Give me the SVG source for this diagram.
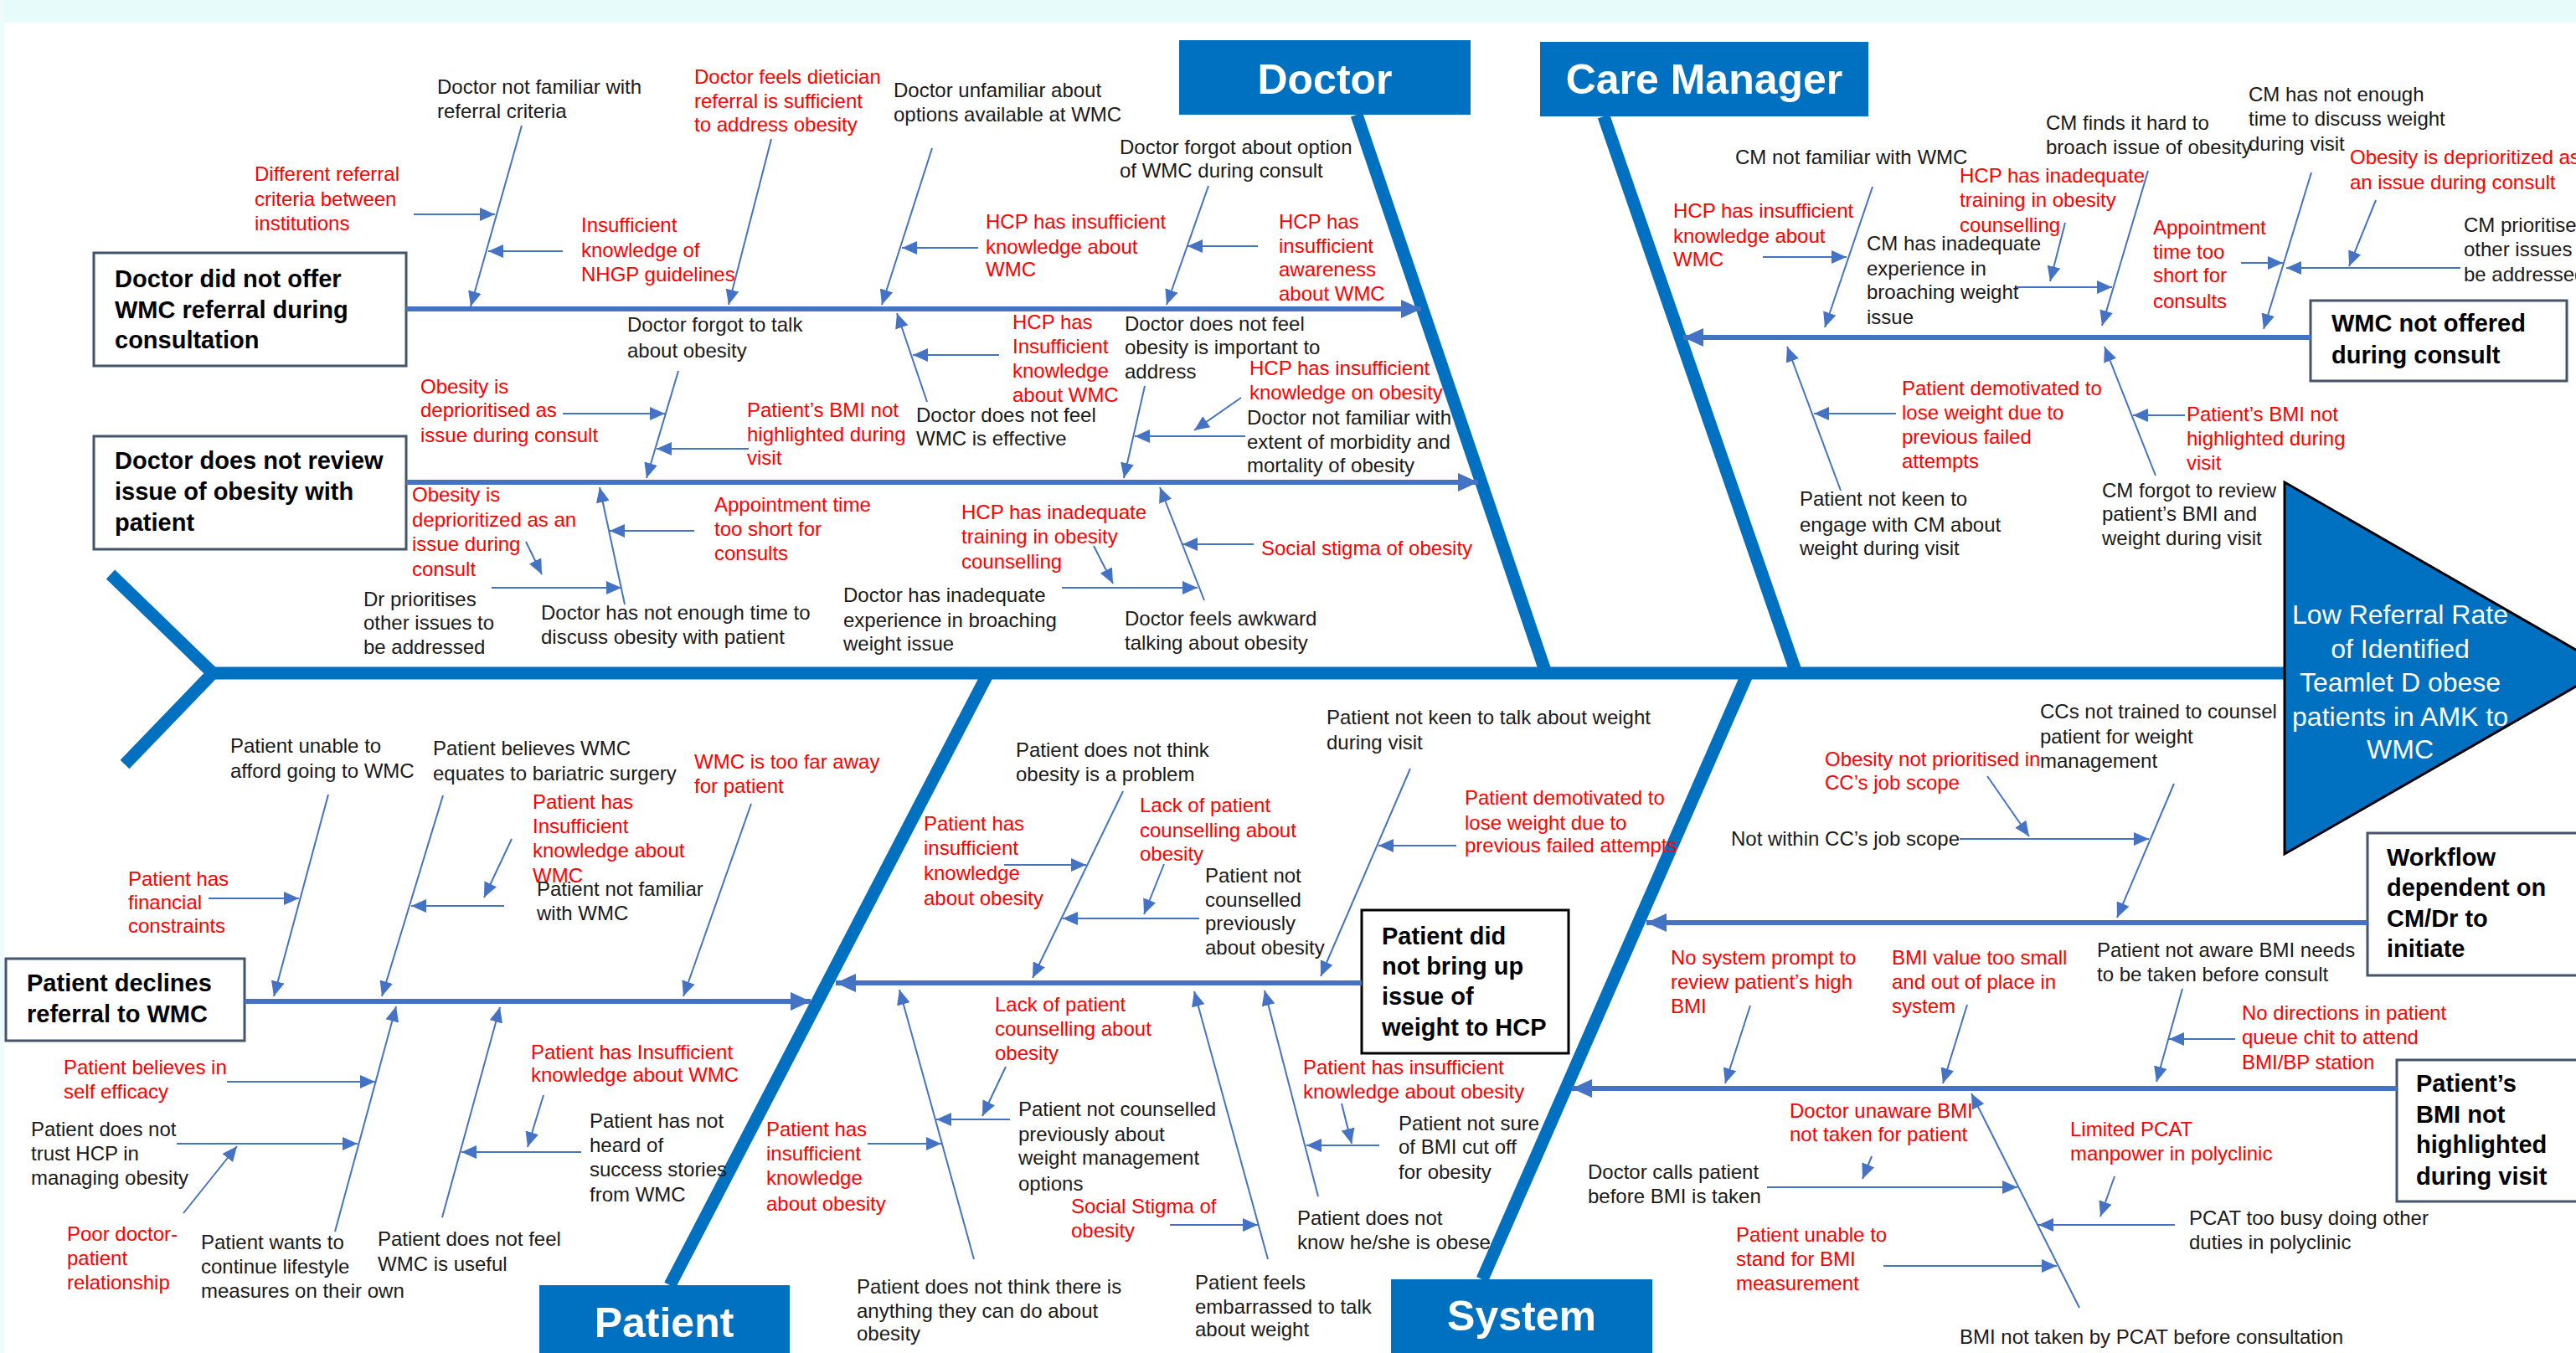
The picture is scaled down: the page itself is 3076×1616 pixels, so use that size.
<svg xmlns="http://www.w3.org/2000/svg" width="3076" height="1616" viewBox="0 0 3076 1616">
<defs>
<style>
text{font-family:"Liberation Sans",Arial,sans-serif}
.t{font-size:24px;fill:#1a1a1a}
.r{fill:#ff0000}
.b{font-size:29px;font-weight:bold;fill:#000}
.cat{font-size:50px;font-weight:bold;fill:#fff;text-anchor:middle}
.head{font-size:32px;fill:#fff;text-anchor:middle}
.bone{stroke:#0070C0;stroke-width:15;fill:none}
.sub{stroke:#4472C4;stroke-width:6;fill:none;marker-end:url(#A)}
.thin{stroke:#4472C4;stroke-width:2;fill:none;marker-end:url(#a)}
.ebox{fill:#fff;stroke:#44546A;stroke-width:3}
.cbox{fill:#0070C0}
</style>
<marker id="a" markerUnits="userSpaceOnUse" markerWidth="18" markerHeight="16" refX="18" refY="8" orient="auto"><path d="M0,0 L18,8 L0,16 Z" fill="#4472C4"/></marker>
<marker id="A" markerUnits="userSpaceOnUse" markerWidth="24" markerHeight="22" refX="24" refY="11" orient="auto"><path d="M0,0 L24,11 L0,22 Z" fill="#4472C4"/></marker>
</defs>
<rect width="3076" height="1616" fill="#fff"/>
<rect width="3076" height="27" fill="#e8fbfb"/>
<rect width="5" height="1616" fill="#eefbfb"/>

<g id="skeleton">
<polyline class="bone" points="132,686 254,804 149,913" stroke-width="16"/>
<line class="bone" x1="250" y1="804" x2="2730" y2="804" stroke-width="14"/>
<line class="bone" x1="1620" y1="137" x2="1846" y2="804"/>
<line class="bone" x1="1915" y1="139" x2="2145" y2="804"/>
<line class="bone" x1="1180" y1="804" x2="800" y2="1535"/>
<line class="bone" x1="2087" y1="804" x2="1770" y2="1528"/>
</g>

<g id="effect">
<polygon points="2728,576 3114,798 2728,1020" fill="#0070C0" stroke="#000" stroke-width="3"/>
<text class="head"><tspan x="2866" y="745">Low Referral Rate</tspan><tspan x="2866" y="786">of Identified</tspan><tspan x="2866" y="826">Teamlet D obese</tspan><tspan x="2866" y="867">patients in AMK to</tspan><tspan x="2866" y="906">WMC</tspan></text>
</g>

<g id="cat-doctor"><rect class="cbox" x="1408" y="48" width="348" height="89"/><text class="cat" x="1582" y="112">Doctor</text></g>
<g id="cat-care-manager"><rect class="cbox" x="1839" y="50" width="392" height="89"/><text class="cat" x="2035" y="112">Care Manager</text></g>
<g id="cat-patient"><rect class="cbox" x="644" y="1535" width="299" height="90"/><text class="cat" x="793" y="1597">Patient</text></g>
<g id="cat-system"><rect class="cbox" x="1661" y="1528" width="312" height="95"/><text class="cat" x="1817" y="1589">System</text></g>

<g id="box-doctor-no-offer"><rect class="ebox" x="112" y="302" width="373" height="135"/><text class="b"><tspan x="137" y="343">Doctor did not offer</tspan><tspan x="137" y="380">WMC referral during</tspan><tspan x="137" y="416">consultation</tspan></text></g>
<g id="box-doctor-no-review"><rect class="ebox" x="112" y="521" width="373" height="135"/><text class="b"><tspan x="137" y="560">Doctor does not review</tspan><tspan x="137" y="597">issue of obesity with</tspan><tspan x="137" y="634">patient</tspan></text></g>
<g id="box-wmc-not-offered"><rect class="ebox" x="2759" y="359" width="306" height="96"/><text class="b"><tspan x="2784" y="396">WMC not offered</tspan><tspan x="2784" y="434">during consult</tspan></text></g>
<g id="box-patient-declines"><rect class="ebox" x="7" y="1145" width="285" height="98"/><text class="b"><tspan x="32" y="1184">Patient declines</tspan><tspan x="32" y="1221">referral to WMC</tspan></text></g>
<g id="box-patient-no-bring-up"><rect x="1626" y="1087" width="247" height="171" fill="#fff" stroke="#000" stroke-width="3"/><text class="b"><tspan x="1650" y="1128">Patient did</tspan><tspan x="1650" y="1164">not bring up</tspan><tspan x="1650" y="1200">issue of</tspan><tspan x="1650" y="1237">weight to HCP</tspan></text></g>
<g id="box-workflow"><rect class="ebox" x="2827" y="995" width="270" height="170"/><text class="b"><tspan x="2850" y="1034">Workflow</tspan><tspan x="2850" y="1070">dependent on</tspan><tspan x="2850" y="1107">CM/Dr to</tspan><tspan x="2850" y="1143">initiate</tspan></text></g>
<g id="box-bmi-not-highlighted"><rect class="ebox" x="2862" y="1266" width="235" height="169"/><text class="b"><tspan x="2885" y="1304">Patient’s</tspan><tspan x="2885" y="1341">BMI not</tspan><tspan x="2885" y="1377">highlighted</tspan><tspan x="2885" y="1415">during visit</tspan></text></g>

<g id="connectors">
<line class="sub" x1="485" y1="369" x2="1697" y2="369"/>
<line class="sub" x1="485" y1="576" x2="1765" y2="576"/>
<line class="sub" x1="2759" y1="403" x2="2010" y2="403"/>
<line class="sub" x1="292" y1="1196" x2="968" y2="1196"/>
<line class="sub" x1="1626" y1="1174" x2="998" y2="1174"/>
<line class="sub" x1="2827" y1="1102" x2="1966" y2="1102"/>
<line class="sub" x1="2862" y1="1300" x2="1877" y2="1300"/>

<line class="thin" x1="623" y1="150" x2="562" y2="366"/>
<line class="thin" x1="494" y1="256" x2="591" y2="256"/>
<line class="thin" x1="672" y1="300" x2="583" y2="300"/>
<line class="thin" x1="921" y1="166" x2="870" y2="364"/>
<line class="thin" x1="1113" y1="177" x2="1053" y2="364"/>
<line class="thin" x1="1168" y1="296" x2="1077" y2="296"/>
<line class="thin" x1="1443" y1="222" x2="1393" y2="364"/>
<line class="thin" x1="1502" y1="294" x2="1418" y2="294"/>
<line class="thin" x1="810" y1="443" x2="772" y2="571"/>
<line class="thin" x1="672" y1="494" x2="794" y2="494"/>
<line class="thin" x1="894" y1="536" x2="784" y2="536"/>
<line class="thin" x1="1107" y1="480" x2="1071" y2="374"/>
<line class="thin" x1="1193" y1="424" x2="1090" y2="424"/>
<line class="thin" x1="1367" y1="461" x2="1342" y2="571"/>
<line class="thin" x1="1482" y1="475" x2="1426" y2="514"/>
<line class="thin" x1="1487" y1="521" x2="1355" y2="521"/>
<line class="thin" x1="628" y1="647" x2="647" y2="686"/>
<line class="thin" x1="587" y1="702" x2="742" y2="702"/>
<line class="thin" x1="746" y1="722" x2="716" y2="582"/>
<line class="thin" x1="829" y1="634" x2="728" y2="634"/>
<line class="thin" x1="1306" y1="652" x2="1329" y2="697"/>
<line class="thin" x1="1268" y1="702" x2="1430" y2="702"/>
<line class="thin" x1="1438" y1="717" x2="1385" y2="582"/>
<line class="thin" x1="1497" y1="650" x2="1412" y2="650"/>

<line class="thin" x1="2236" y1="223" x2="2179" y2="391"/>
<line class="thin" x1="2105" y1="307" x2="2205" y2="307"/>
<line class="thin" x1="2406" y1="343" x2="2522" y2="343"/>
<line class="thin" x1="2466" y1="266" x2="2448" y2="336"/>
<line class="thin" x1="2565" y1="204" x2="2510" y2="389"/>
<line class="thin" x1="2760" y1="206" x2="2703" y2="393"/>
<line class="thin" x1="2676" y1="314" x2="2726" y2="314"/>
<line class="thin" x1="2837" y1="239" x2="2805" y2="318"/>
<line class="thin" x1="2938" y1="320" x2="2730" y2="320"/>
<line class="thin" x1="2264" y1="494" x2="2166" y2="494"/>
<line class="thin" x1="2198" y1="586" x2="2134" y2="414"/>
<line class="thin" x1="2609" y1="496" x2="2547" y2="496"/>
<line class="thin" x1="2574" y1="568" x2="2513" y2="414"/>

<line class="thin" x1="392" y1="949" x2="327" y2="1190"/>
<line class="thin" x1="249" y1="1073" x2="357" y2="1073"/>
<line class="thin" x1="529" y1="950" x2="456" y2="1190"/>
<line class="thin" x1="611" y1="1002" x2="578" y2="1072"/>
<line class="thin" x1="602" y1="1082" x2="491" y2="1082"/>
<line class="thin" x1="897" y1="960" x2="816" y2="1190"/>
<line class="thin" x1="400" y1="1471" x2="473" y2="1202"/>
<line class="thin" x1="271" y1="1292" x2="448" y2="1292"/>
<line class="thin" x1="211" y1="1366" x2="427" y2="1366"/>
<line class="thin" x1="219" y1="1449" x2="283" y2="1369"/>
<line class="thin" x1="528" y1="1454" x2="597" y2="1203"/>
<line class="thin" x1="649" y1="1308" x2="630" y2="1370"/>
<line class="thin" x1="694" y1="1376" x2="551" y2="1376"/>
<line class="thin" x1="1341" y1="945" x2="1233" y2="1168"/>
<line class="thin" x1="1199" y1="1033" x2="1297" y2="1033"/>
<line class="thin" x1="1390" y1="1032" x2="1366" y2="1092"/>
<line class="thin" x1="1432" y1="1097" x2="1269" y2="1097"/>
<line class="thin" x1="1684" y1="918" x2="1577" y2="1166"/>
<line class="thin" x1="1739" y1="1010" x2="1646" y2="1010"/>
<line class="thin" x1="1163" y1="1504" x2="1074" y2="1182"/>
<line class="thin" x1="1036" y1="1366" x2="1124" y2="1366"/>
<line class="thin" x1="1201" y1="1274" x2="1173" y2="1333"/>
<line class="thin" x1="1206" y1="1337" x2="1118" y2="1337"/>
<line class="thin" x1="1397" y1="1463" x2="1502" y2="1463"/>
<line class="thin" x1="1514" y1="1504" x2="1426" y2="1184"/>
<line class="thin" x1="1602" y1="1318" x2="1614" y2="1366"/>
<line class="thin" x1="1647" y1="1368" x2="1560" y2="1368"/>
<line class="thin" x1="1574" y1="1429" x2="1510" y2="1183"/>

<line class="thin" x1="2373" y1="927" x2="2423" y2="999"/>
<line class="thin" x1="2340" y1="1002" x2="2566" y2="1002"/>
<line class="thin" x1="2596" y1="936" x2="2528" y2="1096"/>
<line class="thin" x1="2090" y1="1201" x2="2060" y2="1294"/>
<line class="thin" x1="2349" y1="1200" x2="2320" y2="1294"/>
<line class="thin" x1="2606" y1="1181" x2="2575" y2="1292"/>
<line class="thin" x1="2669" y1="1241" x2="2590" y2="1241"/>
<line class="thin" x1="2483" y1="1562" x2="2354" y2="1306"/>
<line class="thin" x1="2235" y1="1381" x2="2224" y2="1408"/>
<line class="thin" x1="2110" y1="1418" x2="2409" y2="1418"/>
<line class="thin" x1="2525" y1="1405" x2="2508" y2="1453"/>
<line class="thin" x1="2597" y1="1463" x2="2434" y2="1463"/>
<line class="thin" x1="2249" y1="1512" x2="2456" y2="1512"/>
</g>

<g id="d1"><text class="t"><tspan x="522" y="112">Doctor not familiar with</tspan><tspan x="522" y="141">referral criteria</tspan></text></g>
<g id="d2"><text class="t r"><tspan x="304" y="216">Different referral</tspan><tspan x="304" y="246">criteria between</tspan><tspan x="304" y="275">institutions</tspan></text></g>
<g id="d3"><text class="t r"><tspan x="694" y="277">Insufficient</tspan><tspan x="694" y="307">knowledge of</tspan><tspan x="694" y="336">NHGP guidelines</tspan></text></g>
<g id="d4"><text class="t r"><tspan x="829" y="100">Doctor feels dietician</tspan><tspan x="829" y="129">referral is sufficient</tspan><tspan x="829" y="157">to address obesity</tspan></text></g>
<g id="d5"><text class="t"><tspan x="1067" y="116">Doctor unfamiliar about</tspan><tspan x="1067" y="145">options available at WMC</tspan></text></g>
<g id="d6"><text class="t r"><tspan x="1177" y="273">HCP has insufficient</tspan><tspan x="1177" y="303">knowledge about</tspan><tspan x="1177" y="330">WMC</tspan></text></g>
<g id="d7"><text class="t"><tspan x="1337" y="184">Doctor forgot about option</tspan><tspan x="1337" y="212">of WMC during consult</tspan></text></g>
<g id="d8"><text class="t r"><tspan x="1527" y="273">HCP has</tspan><tspan x="1527" y="302">insufficient</tspan><tspan x="1527" y="330">awareness</tspan><tspan x="1527" y="359">about WMC</tspan></text></g>
<g id="d9"><text class="t"><tspan x="749" y="396">Doctor forgot to talk</tspan><tspan x="749" y="427">about obesity</tspan></text></g>
<g id="d10"><text class="t r"><tspan x="502" y="470">Obesity is</tspan><tspan x="502" y="498">deprioritised as</tspan><tspan x="502" y="528">issue during consult</tspan></text></g>
<g id="d11"><text class="t r"><tspan x="892" y="498">Patient’s BMI not</tspan><tspan x="892" y="527">highlighted during</tspan><tspan x="892" y="555">visit</tspan></text></g>
<g id="d12"><text class="t"><tspan x="1094" y="504">Doctor does not feel</tspan><tspan x="1094" y="532">WMC is effective</tspan></text></g>
<g id="d13"><text class="t r"><tspan x="1209" y="393">HCP has</tspan><tspan x="1209" y="422">Insufficient</tspan><tspan x="1209" y="451">knowledge</tspan><tspan x="1209" y="480">about WMC</tspan></text></g>
<g id="d14"><text class="t"><tspan x="1343" y="395">Doctor does not feel</tspan><tspan x="1343" y="423">obesity is important to</tspan><tspan x="1343" y="452">address</tspan></text></g>
<g id="d15"><text class="t r"><tspan x="1492" y="448">HCP has insufficient</tspan><tspan x="1492" y="477">knowledge on obesity</tspan></text></g>
<g id="d16"><text class="t"><tspan x="1489" y="507">Doctor not familiar with</tspan><tspan x="1489" y="536">extent of morbidity and</tspan><tspan x="1489" y="564">mortality of  obesity</tspan></text></g>
<g id="d17"><text class="t r"><tspan x="492" y="599">Obesity is</tspan><tspan x="492" y="629">deprioritized as an</tspan><tspan x="492" y="658">issue during</tspan><tspan x="492" y="688">consult</tspan></text></g>
<g id="d18"><text class="t"><tspan x="434" y="724">Dr prioritises</tspan><tspan x="434" y="752">other issues to</tspan><tspan x="434" y="781">be addressed</tspan></text></g>
<g id="d19"><text class="t"><tspan x="646" y="740">Doctor has not enough time to</tspan><tspan x="646" y="769">discuss obesity with patient</tspan></text></g>
<g id="d20"><text class="t r"><tspan x="853" y="611">Appointment time</tspan><tspan x="853" y="640">too short for</tspan><tspan x="853" y="669">consults</tspan></text></g>
<g id="d21"><text class="t r"><tspan x="1148" y="620">HCP has inadequate</tspan><tspan x="1148" y="649">training in obesity</tspan><tspan x="1148" y="679">counselling</tspan></text></g>
<g id="d22"><text class="t"><tspan x="1007" y="719">Doctor has inadequate</tspan><tspan x="1007" y="749">experience in broaching</tspan><tspan x="1007" y="777">weight issue</tspan></text></g>
<g id="d23"><text class="t"><tspan x="1343" y="747">Doctor feels awkward</tspan><tspan x="1343" y="776">talking about obesity</tspan></text></g>
<g id="d24"><text class="t r" x="1506" y="663">Social stigma of obesity</text></g>

<g id="c1"><text class="t" x="2072" y="196">CM not familiar with WMC</text></g>
<g id="c2"><text class="t r"><tspan x="1998" y="260">HCP has insufficient</tspan><tspan x="1998" y="290">knowledge about</tspan><tspan x="1998" y="318">WMC</tspan></text></g>
<g id="c3"><text class="t"><tspan x="2229" y="299">CM has inadequate</tspan><tspan x="2229" y="329">experience in</tspan><tspan x="2229" y="357">broaching weight</tspan><tspan x="2229" y="387">issue</tspan></text></g>
<g id="c4"><text class="t r"><tspan x="2340" y="218">HCP has inadequate</tspan><tspan x="2340" y="247">training in obesity</tspan><tspan x="2340" y="277">counselling</tspan></text></g>
<g id="c5"><text class="t"><tspan x="2443" y="155">CM finds it hard to</tspan><tspan x="2443" y="184">broach issue of obesity</tspan></text></g>
<g id="c6"><text class="t"><tspan x="2685" y="121">CM has not enough</tspan><tspan x="2685" y="150">time to discuss weight</tspan><tspan x="2685" y="180">during visit</tspan></text></g>
<g id="c7"><text class="t r"><tspan x="2571" y="280">Appointment</tspan><tspan x="2571" y="309">time too</tspan><tspan x="2571" y="337">short for</tspan><tspan x="2571" y="368">consults</tspan></text></g>
<g id="c8"><text class="t r"><tspan x="2806" y="196">Obesity is deprioritized as</tspan><tspan x="2806" y="226">an issue during consult</tspan></text></g>
<g id="c9"><text class="t"><tspan x="2942" y="277">CM prioritises</tspan><tspan x="2942" y="306">other issues to</tspan><tspan x="2942" y="336">be addressed</tspan></text></g>
<g id="c10"><text class="t r"><tspan x="2271" y="472">Patient demotivated to</tspan><tspan x="2271" y="501">lose weight due to</tspan><tspan x="2271" y="530">previous failed</tspan><tspan x="2271" y="559">attempts</tspan></text></g>
<g id="c11"><text class="t"><tspan x="2149" y="604">Patient not keen to</tspan><tspan x="2149" y="635">engage with CM about</tspan><tspan x="2149" y="663">weight during visit</tspan></text></g>
<g id="c12"><text class="t r"><tspan x="2611" y="503">Patient’s BMI not</tspan><tspan x="2611" y="532">highlighted during</tspan><tspan x="2611" y="561">visit</tspan></text></g>
<g id="c13"><text class="t"><tspan x="2510" y="594">CM forgot to review</tspan><tspan x="2510" y="622">patient’s BMI and</tspan><tspan x="2510" y="651">weight during visit</tspan></text></g>

<g id="p1"><text class="t"><tspan x="275" y="899">Patient unable to</tspan><tspan x="275" y="929">afford going to WMC</tspan></text></g>
<g id="p2"><text class="t r"><tspan x="153" y="1058">Patient has</tspan><tspan x="153" y="1086">financial</tspan><tspan x="153" y="1114">constraints</tspan></text></g>
<g id="p3"><text class="t"><tspan x="517" y="902">Patient believes WMC</tspan><tspan x="517" y="932">equates to bariatric surgery</tspan></text></g>
<g id="p4"><text class="t r"><tspan x="636" y="966">Patient has</tspan><tspan x="636" y="995">Insufficient</tspan><tspan x="636" y="1024">knowledge about</tspan><tspan x="636" y="1054">WMC</tspan></text></g>
<g id="p5"><text class="t"><tspan x="641" y="1070">Patient not familiar</tspan><tspan x="641" y="1099">with WMC</tspan></text></g>
<g id="p6"><text class="t r"><tspan x="829" y="918">WMC is too far away</tspan><tspan x="829" y="947">for patient</tspan></text></g>
<g id="p7"><text class="t"><tspan x="240" y="1492">Patient wants to</tspan><tspan x="240" y="1521">continue lifestyle</tspan><tspan x="240" y="1550">measures on their own</tspan></text></g>
<g id="p8"><text class="t r"><tspan x="76" y="1283">Patient believes in</tspan><tspan x="76" y="1312">self efficacy</tspan></text></g>
<g id="p9"><text class="t"><tspan x="37" y="1357">Patient does not</tspan><tspan x="37" y="1386">trust HCP in</tspan><tspan x="37" y="1415">managing obesity</tspan></text></g>
<g id="p10"><text class="t r"><tspan x="80" y="1482">Poor doctor-</tspan><tspan x="80" y="1511">patient</tspan><tspan x="80" y="1540">relationship</tspan></text></g>
<g id="p11"><text class="t"><tspan x="451" y="1488">Patient does not feel</tspan><tspan x="451" y="1518">WMC is useful</tspan></text></g>
<g id="p12"><text class="t r"><tspan x="634" y="1265">Patient has Insufficient</tspan><tspan x="634" y="1292">knowledge about WMC</tspan></text></g>
<g id="p13"><text class="t"><tspan x="704" y="1347">Patient has not</tspan><tspan x="704" y="1376">heard of</tspan><tspan x="704" y="1405">success stories</tspan><tspan x="704" y="1435">from WMC</tspan></text></g>
<g id="p14"><text class="t"><tspan x="1213" y="904">Patient does not think</tspan><tspan x="1213" y="933">obesity is a problem</tspan></text></g>
<g id="p15"><text class="t r"><tspan x="1103" y="992">Patient has</tspan><tspan x="1103" y="1021">insufficient</tspan><tspan x="1103" y="1051">knowledge</tspan><tspan x="1103" y="1081">about obesity</tspan></text></g>
<g id="p16"><text class="t r"><tspan x="1361" y="970">Lack of patient</tspan><tspan x="1361" y="1000">counselling about</tspan><tspan x="1361" y="1028">obesity</tspan></text></g>
<g id="p17"><text class="t"><tspan x="1439" y="1054">Patient not</tspan><tspan x="1439" y="1083">counselled</tspan><tspan x="1439" y="1111">previously</tspan><tspan x="1439" y="1140">about obesity</tspan></text></g>
<g id="p18"><text class="t"><tspan x="1584" y="865">Patient not keen to talk about weight</tspan><tspan x="1584" y="895">during visit</tspan></text></g>
<g id="p19"><text class="t r"><tspan x="1749" y="961">Patient demotivated to</tspan><tspan x="1749" y="991">lose weight due to</tspan><tspan x="1749" y="1018">previous failed attempts</tspan></text></g>
<g id="p20"><text class="t"><tspan x="1023" y="1545">Patient does not think there is</tspan><tspan x="1023" y="1574">anything they can do about</tspan><tspan x="1023" y="1601">obesity</tspan></text></g>
<g id="p21"><text class="t r"><tspan x="915" y="1357">Patient has</tspan><tspan x="915" y="1386">insufficient</tspan><tspan x="915" y="1415">knowledge</tspan><tspan x="915" y="1446">about obesity</tspan></text></g>
<g id="p22"><text class="t r"><tspan x="1188" y="1208">Lack of patient</tspan><tspan x="1188" y="1237">counselling about</tspan><tspan x="1188" y="1266">obesity</tspan></text></g>
<g id="p23"><text class="t"><tspan x="1216" y="1333">Patient not counselled</tspan><tspan x="1216" y="1363">previously about</tspan><tspan x="1216" y="1391">weight management</tspan><tspan x="1216" y="1422">options</tspan></text></g>
<g id="p24"><text class="t r"><tspan x="1279" y="1449">Social Stigma of</tspan><tspan x="1279" y="1478">obesity</tspan></text></g>
<g id="p25"><text class="t"><tspan x="1427" y="1540">Patient feels</tspan><tspan x="1427" y="1569">embarrassed to talk</tspan><tspan x="1427" y="1596">about weight</tspan></text></g>
<g id="p26"><text class="t r"><tspan x="1556" y="1283">Patient has insufficient</tspan><tspan x="1556" y="1312">knowledge about obesity</tspan></text></g>
<g id="p27"><text class="t"><tspan x="1670" y="1350">Patient not sure</tspan><tspan x="1670" y="1378">of BMI cut off</tspan><tspan x="1670" y="1408">for obesity</tspan></text></g>
<g id="p28"><text class="t"><tspan x="1549" y="1463">Patient does not</tspan><tspan x="1549" y="1492">know he/she is obese</tspan></text></g>

<g id="s1"><text class="t r"><tspan x="2179" y="915">Obesity not prioritised in</tspan><tspan x="2179" y="943">CC’s job scope</tspan></text></g>
<g id="s2"><text class="t" x="2067" y="1010">Not within CC’s job scope</text></g>
<g id="s3"><text class="t"><tspan x="2436" y="858">CCs not trained to counsel</tspan><tspan x="2436" y="888">patient for weight</tspan><tspan x="2436" y="917">management</tspan></text></g>
<g id="s4"><text class="t r"><tspan x="1995" y="1152">No system prompt  to</tspan><tspan x="1995" y="1181">review patient’s high</tspan><tspan x="1995" y="1210">BMI</tspan></text></g>
<g id="s5"><text class="t r"><tspan x="2259" y="1152">BMI value too small</tspan><tspan x="2259" y="1181">and out of place in</tspan><tspan x="2259" y="1210">system</tspan></text></g>
<g id="s6"><text class="t"><tspan x="2504" y="1143">Patient not aware BMI needs</tspan><tspan x="2504" y="1172">to be taken before consult</tspan></text></g>
<g id="s7"><text class="t r"><tspan x="2677" y="1218">No directions in patient</tspan><tspan x="2677" y="1247">queue chit to attend</tspan><tspan x="2677" y="1277">BMI/BP station</tspan></text></g>
<g id="s8"><text class="t" x="2340" y="1605">BMI not taken by PCAT before consultation</text></g>
<g id="s9"><text class="t r"><tspan x="2137" y="1335">Doctor unaware BMI</tspan><tspan x="2137" y="1363">not taken for patient</tspan></text></g>
<g id="s10"><text class="t"><tspan x="1896" y="1408">Doctor calls patient</tspan><tspan x="1896" y="1437">before BMI is taken</tspan></text></g>
<g id="s11"><text class="t r"><tspan x="2472" y="1357">Limited PCAT</tspan><tspan x="2472" y="1386">manpower in polyclinic</tspan></text></g>
<g id="s12"><text class="t"><tspan x="2614" y="1463">PCAT too busy doing other</tspan><tspan x="2614" y="1492">duties in polyclinic</tspan></text></g>
<g id="s13"><text class="t r"><tspan x="2073" y="1483">Patient unable to</tspan><tspan x="2073" y="1512">stand for BMI</tspan><tspan x="2073" y="1541">measurement</tspan></text></g>
</svg>
